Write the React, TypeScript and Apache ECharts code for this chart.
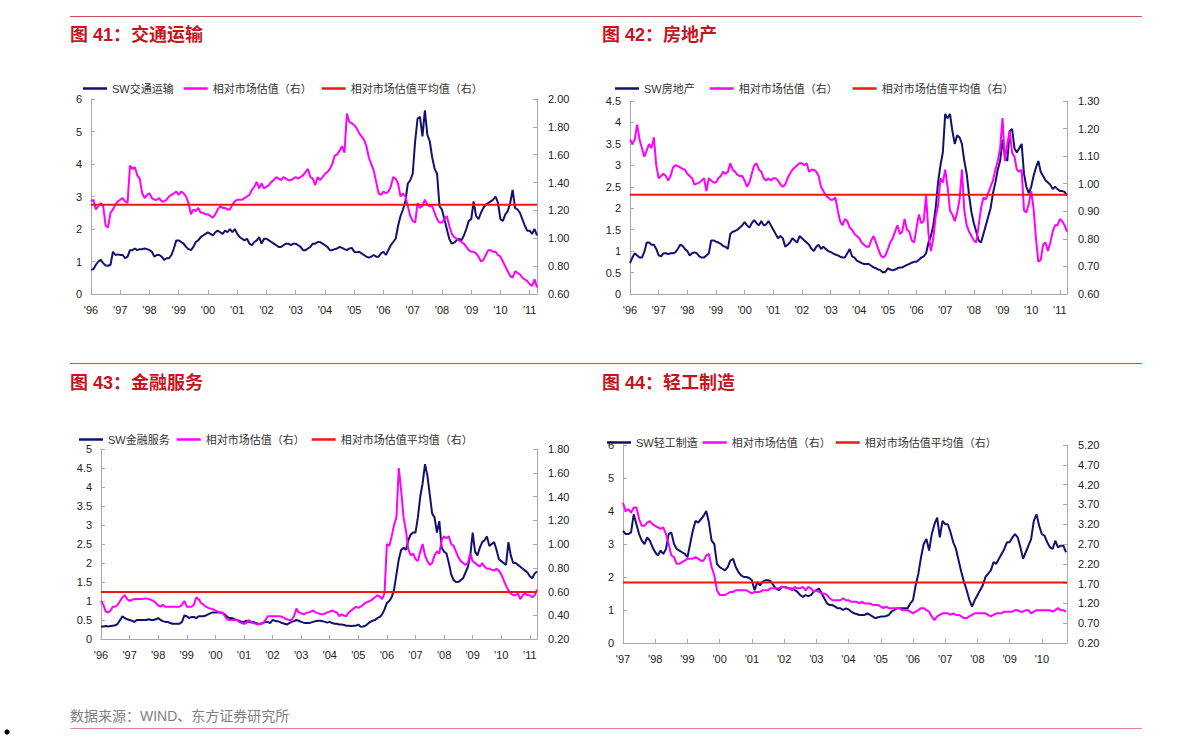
import React, { useEffect, useRef } from "react";
import * as echarts from "echarts";

// ---------- DATA (monthly samples) ----------
const SERIES_REL = "相对市场估值（右）";
const SERIES_MEAN = "相对市场估值平均值（右）";

// Panel 1: 交通运输, monthly from 1996-01
const P1_NAME = "SW交通运输";
const P1_START = 1996;
const P1_NAVY = [
  0.75, 0.76, 0.9, 1.0, 1.05, 0.95, 0.88, 0.87, 0.9, 1.3, 1.2, 1.22,
  1.2, 1.2, 1.1, 1.15, 1.35, 1.35, 1.4, 1.35, 1.38, 1.38, 1.4, 1.38,
  1.35, 1.3, 1.15, 1.2, 1.2, 1.15, 1.05, 1.1, 1.1, 1.2, 1.4, 1.65,
  1.65, 1.6, 1.55, 1.45, 1.38, 1.35, 1.45, 1.6, 1.65, 1.75, 1.8, 1.85,
  1.9, 1.85, 1.8, 1.9, 1.95, 1.9, 1.85, 1.95, 1.9, 2.0, 1.9, 2.0,
  1.85, 1.75, 1.7, 1.65, 1.7, 1.55, 1.5, 1.6, 1.65, 1.75, 1.55, 1.7,
  1.7, 1.65, 1.6, 1.55, 1.5, 1.45, 1.45, 1.5, 1.55, 1.55, 1.5, 1.55,
  1.55, 1.5, 1.45, 1.35, 1.35, 1.4, 1.45, 1.55, 1.55, 1.6, 1.6, 1.55,
  1.5, 1.45, 1.35, 1.35, 1.38, 1.4, 1.45, 1.42, 1.38, 1.35, 1.4, 1.42,
  1.3, 1.28, 1.3, 1.25, 1.2, 1.15, 1.12, 1.15, 1.2, 1.15, 1.15, 1.25,
  1.3, 1.2, 1.35, 1.5, 1.6, 1.7, 2.1, 2.4, 2.6, 2.85, 3.4, 3.5,
  3.7, 4.7, 5.4, 5.45, 4.85, 5.65, 4.9, 4.7, 4.2, 3.85, 3.7, 2.7,
  2.6, 2.3, 2.0, 1.7, 1.55, 1.58, 1.65, 1.7, 1.65, 1.8, 2.0, 2.25,
  2.3, 2.85, 2.4, 2.3, 2.5, 2.65, 2.75, 2.8, 2.85, 2.9, 3.0, 2.8,
  2.3, 2.25, 2.45, 2.55, 2.8, 3.2, 2.65, 2.6, 2.5, 2.3, 2.1, 1.95,
  1.95, 1.85, 2.0, 1.8,
];
const P1_REL = [
  1.265, 1.277, 1.207, 1.23, 1.253, 1.23, 1.09, 1.078, 1.183, 1.207, 1.242, 1.265,
  1.277, 1.288, 1.265, 1.253, 1.522, 1.498, 1.51, 1.452, 1.428, 1.323, 1.288, 1.312,
  1.323, 1.288, 1.277, 1.277, 1.288, 1.265, 1.265, 1.277, 1.3, 1.312, 1.323, 1.335,
  1.312, 1.335, 1.323, 1.3, 1.253, 1.172, 1.207, 1.195, 1.218, 1.183, 1.183, 1.172,
  1.172, 1.16, 1.148, 1.172, 1.207, 1.23, 1.218, 1.218, 1.207, 1.207, 1.242, 1.265,
  1.277, 1.277, 1.277, 1.288, 1.3, 1.312, 1.347, 1.37, 1.405, 1.358, 1.393, 1.358,
  1.37, 1.382, 1.405, 1.417, 1.44, 1.428, 1.417, 1.44, 1.428, 1.417, 1.417, 1.428,
  1.44, 1.428, 1.44, 1.452, 1.475, 1.498, 1.44, 1.428, 1.382, 1.44, 1.417, 1.44,
  1.463, 1.475, 1.498, 1.533, 1.592, 1.603, 1.627, 1.662, 1.615, 1.895, 1.837, 1.825,
  1.813, 1.79, 1.755, 1.732, 1.708, 1.662, 1.58, 1.533, 1.487, 1.405, 1.323, 1.312,
  1.335, 1.323, 1.335, 1.37, 1.44, 1.428, 1.393, 1.3, 1.323, 1.3, 1.23, 1.16,
  1.125, 1.113, 1.253, 1.218, 1.23, 1.277, 1.242, 1.23, 1.23, 1.183, 1.137, 1.113,
  1.113, 1.137, 1.16, 1.09, 1.032, 1.008, 0.997, 0.985, 0.973, 0.962, 0.938, 0.915,
  0.903, 0.903, 0.892, 0.868, 0.833, 0.845, 0.88, 0.915, 0.915, 0.903, 0.903, 0.88,
  0.868, 0.833, 0.798, 0.763, 0.728, 0.717, 0.763, 0.752, 0.74, 0.717, 0.705, 0.693,
  0.67, 0.658, 0.705, 0.647,
];
const P1_MEAN = 1.24;

// Panel 2: 房地产, monthly from 1996-01
const P2_NAME = "SW房地产";
const P2_START = 1996;
const P2_NAVY = [
  0.72, 0.85, 0.95, 0.9, 0.85, 0.85, 0.98, 1.2, 1.2, 1.15, 1.15, 1.05,
  0.9, 0.88, 0.95, 0.95, 0.93, 0.95, 0.95, 0.97, 1.05, 1.15, 1.12, 1.05,
  1.0, 0.9, 0.95, 0.97, 0.95, 0.88, 0.85, 0.85, 0.9, 0.95, 1.25, 1.25,
  1.22, 1.2, 1.17, 1.12, 1.1, 1.05, 1.4, 1.45, 1.47, 1.5, 1.55, 1.6,
  1.68, 1.6, 1.55, 1.65, 1.72, 1.65, 1.6, 1.7, 1.6, 1.62, 1.7, 1.6,
  1.5, 1.4, 1.3, 1.35, 1.3, 1.1, 1.15, 1.2, 1.3, 1.25, 1.2, 1.35,
  1.3, 1.25, 1.2, 1.15, 1.05, 1.0, 1.1, 1.15, 1.05, 1.1, 1.05, 1.0,
  0.98, 0.95, 0.92, 0.9, 0.87, 0.85, 0.85, 0.95, 1.05, 0.88, 0.85, 0.78,
  0.75, 0.72, 0.7, 0.7, 0.7, 0.66, 0.62, 0.6, 0.57, 0.55, 0.5, 0.52,
  0.6, 0.57, 0.55, 0.57, 0.6, 0.62, 0.62, 0.65, 0.68, 0.7, 0.73, 0.75,
  0.75, 0.8, 0.85, 0.88, 0.95, 1.2, 1.35, 1.6, 2.0, 2.6, 3.0, 3.3,
  4.2, 4.1, 4.2, 3.8, 3.5, 3.7, 3.65, 3.5, 3.1, 2.8, 2.3, 1.9,
  1.65, 1.45, 1.25, 1.2, 1.4, 1.6, 1.8, 2.0, 2.35, 2.6, 2.9, 3.1,
  3.6, 3.2, 3.1, 3.8, 3.85, 3.4, 3.3, 3.4, 3.5, 2.8, 2.5, 2.35,
  2.5, 2.75, 2.95, 3.1, 2.85, 2.75, 2.65, 2.6, 2.55, 2.45, 2.5, 2.45,
  2.4, 2.4, 2.38, 2.3,
];
const P2_REL = [
  1.16, 1.144, 1.16, 1.214, 1.16, 1.129, 1.098, 1.121, 1.144, 1.129, 1.168, 1.067,
  1.02, 1.028, 1.036, 1.028, 1.012, 1.028, 1.059, 1.067, 1.064, 1.059, 1.054, 1.051,
  1.036, 1.028, 1.02, 0.997, 1.001, 1.004, 1.012, 1.02, 0.973, 1.02, 1.012, 1.004,
  1.004, 1.02, 1.028, 1.043, 1.036, 1.043, 1.074, 1.051, 1.043, 1.032, 1.028, 1.028,
  1.012, 0.989, 1.004, 1.036, 1.067, 1.074, 1.051, 1.043, 1.02, 1.012, 1.02, 1.012,
  1.02, 1.02, 1.012, 0.997, 0.989, 0.997, 1.02, 1.036, 1.051, 1.059, 1.067, 1.074,
  1.074, 1.067, 1.074, 1.043, 1.051, 1.051, 1.043, 1.028, 0.989, 0.973, 0.958, 0.95,
  0.942, 0.942, 0.95, 0.903, 0.864, 0.849, 0.872, 0.864, 0.841, 0.833, 0.818, 0.81,
  0.802, 0.787, 0.779, 0.771, 0.771, 0.794, 0.81, 0.787, 0.763, 0.74, 0.732, 0.74,
  0.763, 0.787, 0.802, 0.826, 0.849, 0.818, 0.826, 0.872, 0.833, 0.826, 0.794, 0.787,
  0.841, 0.888, 0.857, 0.864, 0.958, 0.818, 0.756, 0.802, 0.88, 0.919, 1.02, 1.004,
  1.051, 0.989, 0.903, 0.888, 0.864, 0.896, 0.942, 1.051, 0.903, 0.849, 0.826, 0.81,
  0.794, 0.787, 0.849, 0.911, 0.95, 0.942, 0.966, 0.989, 1.012, 1.051, 1.082, 1.129,
  1.238, 1.082, 1.144, 1.191, 1.113, 1.098, 1.051, 1.043, 1.051, 0.903, 0.896, 0.927,
  0.973, 0.911, 0.802, 0.717, 0.724, 0.779, 0.787, 0.756, 0.787, 0.826, 0.849, 0.849,
  0.872, 0.864, 0.849, 0.826,
];
const P2_MEAN = 0.96;

// Panel 3: 金融服务, monthly from 1996-01
const P3_NAME = "SW金融服务";
const P3_START = 1996;
const P3_NAVY = [
  0.33, 0.33, 0.34, 0.33, 0.34, 0.35, 0.36, 0.4, 0.5, 0.6, 0.55, 0.52,
  0.5, 0.48, 0.45, 0.5, 0.5, 0.5, 0.5, 0.5, 0.52, 0.5, 0.5, 0.52,
  0.55, 0.5, 0.47, 0.45, 0.45, 0.42, 0.4, 0.4, 0.4, 0.4, 0.45, 0.62,
  0.6, 0.55, 0.58, 0.58, 0.55, 0.6, 0.6, 0.6, 0.62, 0.65, 0.68, 0.7,
  0.7, 0.7, 0.7, 0.68, 0.65, 0.58, 0.55, 0.55, 0.52, 0.5, 0.48, 0.45,
  0.45, 0.48, 0.45, 0.43, 0.45, 0.42, 0.4, 0.4, 0.42, 0.45, 0.45, 0.42,
  0.5, 0.48, 0.47, 0.45, 0.42, 0.4, 0.38, 0.42, 0.45, 0.47, 0.5, 0.48,
  0.45, 0.43, 0.42, 0.42, 0.43, 0.45, 0.47, 0.48, 0.48, 0.47, 0.45, 0.43,
  0.45, 0.42, 0.4, 0.4, 0.38, 0.38, 0.37, 0.35, 0.35, 0.34, 0.35, 0.35,
  0.38, 0.32, 0.33, 0.35, 0.4, 0.45, 0.48, 0.5, 0.55, 0.58, 0.65, 0.78,
  0.95, 1.0, 1.1, 1.3, 1.7, 2.1, 2.35, 2.4, 2.35, 2.6, 2.75, 2.8,
  2.8, 3.2, 3.75, 4.1, 4.6, 4.3, 3.8, 3.3, 3.2, 2.8, 3.1, 2.4,
  2.3, 2.25, 2.0, 1.7, 1.55, 1.5, 1.5, 1.55, 1.6, 1.75, 1.9, 2.2,
  2.8, 2.3, 2.2, 2.4, 2.55, 2.6, 2.7, 2.45, 2.5, 2.55, 2.35, 2.1,
  2.05, 2.0, 1.95, 2.55, 2.2, 2.0, 2.0, 1.95, 1.9, 1.85, 1.8, 1.75,
  1.65, 1.6, 1.72, 1.78,
];
const P3_REL = [
  0.52, 0.488, 0.43, 0.424, 0.44, 0.472, 0.472, 0.488, 0.52, 0.552, 0.568, 0.536,
  0.52, 0.53, 0.536, 0.536, 0.536, 0.536, 0.539, 0.542, 0.536, 0.53, 0.52, 0.504,
  0.482, 0.472, 0.488, 0.472, 0.472, 0.472, 0.472, 0.472, 0.472, 0.472, 0.488, 0.52,
  0.472, 0.472, 0.472, 0.488, 0.552, 0.536, 0.504, 0.488, 0.472, 0.462, 0.456, 0.45,
  0.44, 0.43, 0.424, 0.424, 0.392, 0.366, 0.36, 0.36, 0.36, 0.36, 0.344, 0.334,
  0.328, 0.334, 0.36, 0.344, 0.334, 0.328, 0.322, 0.328, 0.334, 0.36, 0.392, 0.392,
  0.392, 0.392, 0.392, 0.392, 0.386, 0.376, 0.366, 0.36, 0.36, 0.392, 0.456, 0.424,
  0.418, 0.408, 0.418, 0.424, 0.43, 0.44, 0.424, 0.418, 0.411, 0.408, 0.414, 0.424,
  0.43, 0.44, 0.43, 0.424, 0.392, 0.408, 0.398, 0.392, 0.424, 0.44, 0.456, 0.472,
  0.462, 0.472, 0.488, 0.504, 0.514, 0.52, 0.536, 0.552, 0.568, 0.558, 0.536, 0.584,
  1.0, 0.984, 1.064, 1.16, 1.224, 1.64, 1.448, 1.224, 1.112, 0.952, 0.904, 0.92,
  0.872, 0.856, 0.936, 1.0, 0.904, 0.856, 0.824, 0.84, 0.904, 0.936, 0.92, 1.032,
  1.064, 1.048, 1.064, 1.0, 0.984, 0.936, 0.888, 0.856, 0.84, 0.824, 0.84, 0.92,
  0.856, 0.84, 0.824, 0.808, 0.84, 0.808, 0.792, 0.792, 0.782, 0.776, 0.792, 0.776,
  0.744, 0.696, 0.648, 0.61, 0.584, 0.568, 0.568, 0.584, 0.536, 0.568, 0.584, 0.568,
  0.568, 0.552, 0.568, 0.616,
];
const P3_MEAN = 0.595;

// Panel 4: 轻工制造, monthly from 1997-01
const P4_NAME = "SW轻工制造";
const P4_START = 1997;
const P4_NAVY = [
  3.4, 3.3, 3.3, 3.35, 3.9, 3.6, 3.3, 3.1, 3.0, 3.2, 3.1, 2.9,
  2.75, 2.65, 2.8, 2.7, 2.85, 3.3, 3.35, 3.0, 2.85, 2.8, 2.75, 2.7,
  2.6, 3.0, 3.4, 3.7, 3.65, 3.75, 3.85, 4.0, 3.65, 3.1, 3.0, 2.4,
  2.3, 2.25, 2.2, 2.3, 2.5, 2.55, 2.3, 2.15, 2.05, 2.0, 2.0, 1.97,
  1.9, 1.6, 1.85, 1.75, 1.85, 1.9, 1.9, 1.87, 1.75, 1.65, 1.6, 1.68,
  1.7, 1.68, 1.65, 1.65, 1.6, 1.55, 1.45, 1.4, 1.45, 1.42, 1.45, 1.55,
  1.6, 1.65, 1.5, 1.35, 1.2, 1.15, 1.15, 1.1, 1.05, 1.05, 1.0, 1.05,
  1.02, 0.95, 0.9, 0.88, 0.85, 0.85, 0.85, 0.9, 0.85, 0.8, 0.75, 0.78,
  0.8, 0.8, 0.82, 0.85, 0.95, 1.0, 1.05, 1.05, 1.05, 1.05, 1.05, 1.2,
  1.3, 1.75, 2.1, 2.6, 3.0, 3.15, 2.8, 3.3, 3.6, 3.8, 3.2, 3.7,
  3.6, 3.6, 3.35, 3.05, 2.85, 2.5, 2.15, 1.85, 1.6, 1.3, 1.1, 1.3,
  1.45, 1.6, 1.75, 2.0, 2.1, 2.2, 2.45, 2.4, 2.55, 2.7, 2.85, 3.05,
  3.05, 3.2, 3.3, 3.2, 2.9, 2.55, 2.75, 2.95, 3.15, 3.7, 3.9, 3.55,
  3.3, 3.25, 3.05, 2.9, 2.85, 3.1, 2.9, 2.95, 2.95, 2.75,
];
const P4_REL = [
  3.74, 3.53, 3.58, 3.49, 3.62, 3.62, 3.33, 3.16, 3.16, 3.24, 3.28, 3.2,
  3.16, 3.12, 3.08, 3.12, 2.95, 2.7, 2.41, 2.37, 2.2, 2.2, 2.24, 2.28,
  2.33, 2.33, 2.33, 2.37, 2.33, 2.28, 2.28, 2.41, 2.45, 2.12, 1.91, 1.53,
  1.41, 1.41, 1.41, 1.45, 1.49, 1.49, 1.53, 1.53, 1.53, 1.53, 1.53, 1.49,
  1.45, 1.49, 1.49, 1.49, 1.53, 1.53, 1.53, 1.58, 1.58, 1.58, 1.58, 1.62,
  1.62, 1.58, 1.58, 1.53, 1.62, 1.58, 1.58, 1.62, 1.53, 1.62, 1.58, 1.49,
  1.53, 1.49, 1.45, 1.45, 1.41, 1.33, 1.28, 1.28, 1.28, 1.28, 1.33, 1.28,
  1.28, 1.24, 1.24, 1.24, 1.2, 1.24, 1.2, 1.2, 1.2, 1.16, 1.16, 1.16,
  1.12, 1.08, 1.12, 1.08, 1.08, 1.08, 1.08, 1.08, 1.03, 1.03, 1.03, 0.99,
  0.95, 0.99, 1.03, 1.08, 1.08, 1.03, 0.99, 0.87, 0.78, 0.87, 0.91, 0.95,
  0.95, 0.95, 0.91, 0.95, 0.91, 0.91, 0.87, 0.83, 0.83, 0.87, 0.91, 0.95,
  0.95, 0.95, 0.95, 0.95, 0.91, 0.87, 0.91, 0.95, 0.95, 0.95, 0.99, 0.99,
  0.99, 0.99, 1.03, 1.03, 0.99, 0.99, 1.03, 1.03, 0.95, 0.99, 1.03, 1.03,
  1.03, 1.03, 1.03, 1.03, 0.99, 1.03, 1.08, 1.03, 1.03, 0.99,
];
const P4_MEAN = 1.73;
const P4_RIGHT_TICKS = [0.2, 0.7, 1.2, 1.7, 2.2, 2.7, 3.2, 3.7, 4.2, 4.7, 5.2];

const TITLES = ["图 41：交通运输", "图 42：房地产", "图 43：金融服务", "图 44：轻工制造"];
const SOURCE_TEXT = "数据来源：WIND、东方证券研究所";

// ---------- STYLE / LAYOUT ----------
const NAVY = "#12126E";
const MAGENTA = "#FF00FF";
const RED = "#F01414";
const AXIS = "#A8A8A8";
const TITLE_RED = "#C8141E";
const RULE = "#C8505A";
const FONT = "'Liberation Sans', Arial, 'Noto Sans CJK SC', sans-serif";

const PANELS = [
  {
    name: P1_NAME, navy: P1_NAVY, rel: P1_REL, mean: P1_MEAN, start: P1_START,
    xMin: 1996, xMax: 2011.25, leftMax: 6, leftStep: 1,
    rightMin: 0.6, rightMax: 2.0, rightStep: 0.2, rightCustom: null as number[] | null,
    grid: { left: 91, top: 99, width: 446, height: 195 },
    legend: { left: 83, top: 83, gap: 10 },
    title: { x: 70, y: 35 },
  },
  {
    name: P2_NAME, navy: P2_NAVY, rel: P2_REL, mean: P2_MEAN, start: P2_START,
    xMin: 1996, xMax: 2011.25, leftMax: 4.5, leftStep: 0.5,
    rightMin: 0.6, rightMax: 1.3, rightStep: 0.1, rightCustom: null as number[] | null,
    grid: { left: 630, top: 101, width: 437, height: 193 },
    legend: { left: 615, top: 83, gap: 15 },
    title: { x: 602, y: 35 },
  },
  {
    name: P3_NAME, navy: P3_NAVY, rel: P3_REL, mean: P3_MEAN, start: P3_START,
    xMin: 1996, xMax: 2011.25, leftMax: 5, leftStep: 0.5,
    rightMin: 0.2, rightMax: 1.8, rightStep: 0.2, rightCustom: null as number[] | null,
    grid: { left: 101, top: 449, width: 436, height: 190 },
    legend: { left: 79, top: 434, gap: 7 },
    title: { x: 70, y: 383 },
  },
  {
    name: P4_NAME, navy: P4_NAVY, rel: P4_REL, mean: P4_MEAN, start: P4_START,
    xMin: 1997, xMax: 2010.78, leftMax: 6, leftStep: 1,
    rightMin: 0.2, rightMax: 5.2, rightStep: 0, rightCustom: P4_RIGHT_TICKS,
    grid: { left: 623, top: 445, width: 444, height: 198 },
    legend: { left: 607, top: 437, gap: 5 },
    title: { x: 602, y: 383 },
  },
];

function buildOption() {
  const grids: any[] = [];
  const xAxes: any[] = [];
  const yAxes: any[] = [];
  const series: any[] = [];
  const legends: any[] = [];
  const graphics: any[] = [];

  PANELS.forEach((p, i) => {
    grids.push({ ...p.grid, containLabel: false, outerBoundsMode: "none" });

    xAxes.push({
      type: "value",
      gridIndex: i,
      min: p.xMin,
      max: p.xMax,
      interval: 1,
      axisLine: { onZero: false, lineStyle: { color: AXIS, width: 1 } },
      axisTick: { show: true, inside: true, length: 4, lineStyle: { color: AXIS } },
      splitLine: { show: false },
      axisLabel: {
        fontSize: 11,
        color: "#222",
        fontFamily: FONT,
        margin: 10,
        formatter: (v: number) => (Number.isInteger(v) ? "'" + String(v).slice(2) : ""),
      },
    });

    yAxes.push({
      type: "value",
      gridIndex: i,
      position: "left",
      min: 0,
      max: p.leftMax,
      interval: p.leftStep,
      axisLine: { show: true, lineStyle: { color: AXIS, width: 1 } },
      axisTick: { show: true, inside: true, length: 4, lineStyle: { color: AXIS } },
      splitLine: { show: false },
      axisLabel: { fontSize: 11, color: "#222", fontFamily: FONT, margin: 9 },
    });

    const right: any = {
      type: "value",
      gridIndex: i,
      position: "right",
      min: p.rightMin,
      max: p.rightMax,
      axisLine: { show: true, lineStyle: { color: AXIS, width: 1 } },
      axisTick: { show: true, inside: true, length: 4, lineStyle: { color: AXIS } },
      splitLine: { show: false },
      axisLabel: {
        fontSize: 11,
        color: "#222",
        fontFamily: FONT,
        margin: 11,
        formatter: (v: number) => v.toFixed(2),
      },
    };
    if (p.rightCustom) {
      right.axisLabel.customValues = p.rightCustom;
      right.axisTick.customValues = p.rightCustom;
    } else {
      right.interval = p.rightStep;
    }
    yAxes.push(right);

    series.push({
      name: p.name,
      type: "line",
      xAxisIndex: i,
      yAxisIndex: 2 * i,
      data: p.navy.map((v, m) => [p.start + m / 12, v]),
      showSymbol: false,
      symbol: "none",
      lineStyle: { color: NAVY, width: 2 },
      itemStyle: { color: NAVY },
      emphasis: { disabled: true },
      z: 2,
    });
    series.push({
      name: SERIES_REL,
      type: "line",
      xAxisIndex: i,
      yAxisIndex: 2 * i + 1,
      data: p.rel.map((v, m) => [p.start + m / 12, v]),
      showSymbol: false,
      symbol: "none",
      lineStyle: { color: MAGENTA, width: 2 },
      itemStyle: { color: MAGENTA },
      emphasis: { disabled: true },
      z: 3,
    });
    series.push({
      name: SERIES_MEAN,
      type: "line",
      xAxisIndex: i,
      yAxisIndex: 2 * i + 1,
      data: [
        [p.xMin, p.mean],
        [p.xMax, p.mean],
      ],
      showSymbol: false,
      symbol: "none",
      lineStyle: { color: RED, width: 2 },
      itemStyle: { color: RED },
      emphasis: { disabled: true },
      z: 4,
    });

    legends.push({
      left: p.legend.left,
      top: p.legend.top,
      padding: 0,
      orient: "horizontal",
      icon: "rect",
      itemWidth: 24,
      itemHeight: 2.5,
      itemGap: p.legend.gap,
      selectedMode: false,
      data: [p.name, SERIES_REL, SERIES_MEAN],
      textStyle: { fontSize: 11, color: "#333", fontFamily: FONT },
    });

    graphics.push({
      type: "text",
      x: p.title.x,
      y: p.title.y,
      style: {
        text: TITLES[i],
        fill: TITLE_RED,
        font: "bold 18px " + FONT,
        verticalAlign: "middle",
        align: "left",
      },
    });
  });

  graphics.push(
    { type: "line", shape: { x1: 70, y1: 16.5, x2: 1142, y2: 16.5 }, style: { stroke: RULE, lineWidth: 1 } },
    { type: "line", shape: { x1: 70, y1: 363.5, x2: 1142, y2: 363.5 }, style: { stroke: RULE, lineWidth: 1 } },
    { type: "line", shape: { x1: 70, y1: 728.5, x2: 1142, y2: 728.5 }, style: { stroke: "#D58A96", lineWidth: 1 } },
    {
      type: "text",
      x: 70,
      y: 716,
      style: {
        text: SOURCE_TEXT,
        fill: "#808080",
        font: "14px " + FONT,
        verticalAlign: "middle",
        align: "left",
      },
    },
    { type: "circle", shape: { cx: 7, cy: 732, r: 2.6 }, style: { fill: "#000" } }
  );

  return {
    animation: false,
    backgroundColor: "#ffffff",
    textStyle: { fontFamily: FONT },
    grid: grids,
    xAxis: xAxes,
    yAxis: yAxes,
    legend: legends,
    series,
    graphic: graphics,
  };
}

export default function App() {
  const ref = useRef<HTMLDivElement>(null);
  useEffect(() => {
    if (!ref.current) return;
    const chart = echarts.init(ref.current, undefined, { renderer: "svg" });
    chart.setOption(buildOption() as any);
    return () => chart.dispose();
  }, []);
  return (
    <div
      ref={ref}
      style={{ position: "absolute", left: 0, top: 0, width: 1191, height: 743, background: "#fff" }}
    />
  );
}
